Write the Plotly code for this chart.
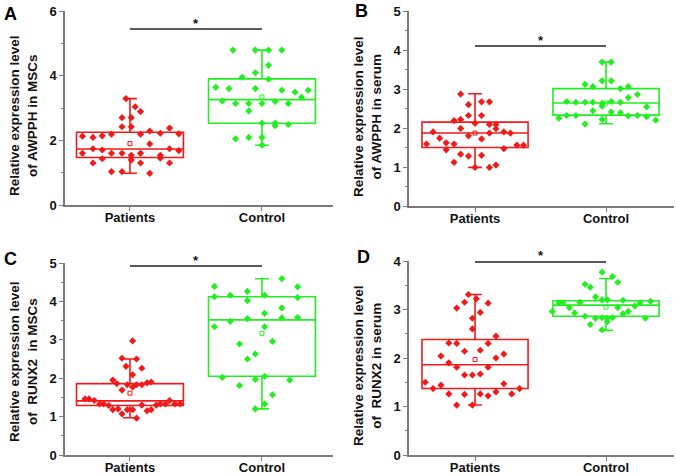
import plotly.graph_objects as go

# ---------------- data ----------------
categories = ["Patients", "Control"]

# Panel A: AWPPH in MSCs
a_pat_off = [-0.36,-0.28,-0.21,-0.14,0.08,0.15,0.23,0.30,0.37,-0.36,-0.28,-0.21,-0.14,-0.06,0.01,0.08,0.15,0.23,0.23,0.30,0.37,-0.28,-0.21,0.01,0.08,0.30,-0.14,-0.06,0.15,-0.06,0.01,-0.06,0.01,-0.03,0.04,0.08]
a_pat_val = [2.13,2.09,2.14,2.19,2.19,2.29,2.22,2.38,2.20,1.60,1.74,1.70,1.60,1.60,1.54,1.60,1.89,1.54,1.45,1.74,1.68,1.30,1.43,1.39,1.30,1.30,1.03,1.03,0.98,2.42,2.42,2.70,2.70,3.29,3.04,2.89]
a_con_off = [-0.22,-0.05,0.05,0.15,0.05,-0.05,-0.15,0.05,-0.35,-0.25,-0.05,0.15,0.25,0.35,0.30,-0.30,-0.20,-0.10,0.00,0.10,0.20,-0.10,0.00,0.10,0.10,0.20,-0.20,-0.10,0.00,0.00]
a_con_val = [4.79,4.79,4.79,4.79,4.32,4.09,3.95,3.89,3.64,3.60,3.60,3.55,3.49,3.55,3.33,3.22,3.14,3.14,3.14,3.20,3.14,2.91,2.53,2.45,2.53,2.49,2.05,2.09,2.09,1.85]
a_stats = {"q1": [1.47, 2.53], "median": [1.73, 3.26], "q3": [2.25, 3.90],
           "lo": [0.98, 1.85], "hi": [3.29, 4.79], "mean": [1.90, 3.34]}

# Panel B: AWPPH in serum
b_pat_off = [-0.11,-0.05,0.05,0.11,-0.05,0.05,-0.16,-0.11,0.00,0.11,0.16,-0.11,0.16,-0.32,0.11,0.22,0.27,-0.27,-0.05,0.05,-0.22,-0.16,-0.37,-0.22,0.22,0.32,0.37,-0.11,-0.05,0.05,-0.16,0.00,0.11,0.16]
b_pat_val = [2.87,2.60,2.67,2.67,2.32,2.32,2.19,2.22,2.12,2.09,2.09,1.99,1.98,1.90,1.87,1.90,1.87,1.74,1.80,1.72,1.62,1.59,1.59,1.44,1.47,1.56,1.56,1.33,1.28,1.30,1.12,0.99,0.99,1.05]
b_con_off = [-0.03,0.04,-0.03,0.04,-0.16,-0.10,0.11,0.17,0.24,0.17,-0.30,-0.23,-0.16,-0.10,-0.03,0.04,0.11,-0.03,-0.10,0.04,0.11,0.31,-0.36,-0.30,-0.23,0.17,0.24,0.31,0.38,-0.03,-0.16]
b_con_val = [3.69,3.69,3.21,3.21,3.12,3.06,3.01,3.06,2.86,2.78,2.68,2.66,2.66,2.66,2.63,2.68,2.66,2.56,2.44,2.41,2.39,2.54,2.25,2.32,2.32,2.31,2.32,2.29,2.20,2.22,2.10]
b_stats = {"q1": [1.50, 2.33], "median": [1.87, 2.64], "q3": [2.15, 3.01],
           "lo": [0.99, 2.11], "hi": [2.88, 3.69], "mean": [1.87, 2.64]}

# Panel C: RUNX2 in MSCs
c_pat_off = [0.02,-0.06,0.05,-0.03,0.09,0.02,-0.13,-0.10,-0.02,0.05,0.09,0.13,0.16,0.02,-0.06,-0.34,-0.31,-0.27,-0.23,-0.20,-0.16,-0.13,-0.09,-0.06,-0.02,0.02,0.05,0.09,0.13,0.16,0.20,0.23,0.27,0.30,0.34,0.38]
c_pat_val = [2.97,2.52,2.50,2.31,2.26,2.09,1.95,1.86,1.83,1.83,1.83,1.88,1.90,1.77,1.69,1.46,1.46,1.42,1.33,1.33,1.29,1.18,1.20,1.07,1.18,1.18,0.96,1.30,1.15,1.18,1.30,1.33,1.33,1.42,1.33,1.33]
c_con_off = [-0.36,-0.36,-0.24,-0.11,-0.11,0.02,0.15,0.27,0.27,0.15,0.02,-0.11,0.15,0.27,-0.24,-0.36,0.02,-0.17,0.08,-0.05,-0.11,-0.30,0.02,-0.05,0.21,-0.17,0.08,0.02,-0.05]
c_con_val = [4.39,4.12,4.16,4.26,4.02,4.16,4.59,4.38,4.10,3.83,3.69,3.55,3.57,3.58,3.48,3.34,3.34,2.89,2.96,2.63,2.50,2.02,2.05,1.97,1.95,1.81,1.57,1.33,1.20]
c_stats = {"q1": [1.29, 2.05], "median": [1.41, 3.52], "q3": [1.86, 4.12],
           "lo": [0.97, 1.20], "hi": [2.50, 4.59], "mean": [1.61, 3.17]}

# Panel D: RUNX2 in serum
d_pat_off = [-0.05,-0.08,0.01,0.10,-0.14,0.04,-0.02,-0.02,0.16,-0.20,-0.14,0.10,-0.08,0.04,-0.26,0.16,0.22,-0.20,-0.14,0.10,-0.08,-0.02,0.04,-0.38,-0.32,-0.26,0.22,0.34,-0.20,-0.08,0.04,0.10,0.16,0.28,-0.14,-0.02]
d_pat_val = [3.31,3.15,3.22,3.13,3.03,2.94,2.82,2.60,2.45,2.31,2.30,2.30,2.14,2.16,2.04,2.00,2.08,1.90,1.81,1.81,1.65,1.65,1.67,1.50,1.37,1.44,1.47,1.37,1.26,1.25,1.26,1.22,1.30,1.26,1.03,1.03]
d_con_off = [-0.03,0.05,-0.16,-0.12,0.09,-0.08,-0.36,-0.33,-0.20,-0.03,0.01,0.13,0.26,0.34,-0.28,0.09,0.22,-0.41,-0.24,0.17,0.13,-0.16,-0.08,-0.03,0.01,0.05,0.30,-0.12,0.01,-0.03]
d_con_val = [3.77,3.68,3.52,3.46,3.56,3.26,3.14,3.14,3.15,3.20,3.20,3.19,3.14,3.17,3.04,3.04,3.07,2.96,2.93,2.96,2.91,2.86,2.82,2.83,2.82,2.83,2.82,2.69,2.75,2.58]
d_stats = {"q1": [1.37, 2.86], "median": [1.86, 3.09], "q3": [2.38, 3.18],
           "lo": [1.03, 2.57], "hi": [3.31, 3.64], "mean": [1.97, 3.05]}

sig_y = [5.44, 4.10, 4.92, 3.98]
panel_letters = ["A", "B", "C", "D"]
y_titles = ["Relative expression level<br>of AWPPH in MSCs",
            "Relative expression level<br>of AWPPH in serum",
            "Relative expression level<br>of  RUNX2  in MSCs",
            "Relative expression level<br>of  RUNX2 in serum"]
y_max = [6, 5, 5, 4]
y_dtick = [2, 1, 1, 1]

# ---------------- styling ----------------
W, H = 677, 476
FONT = "Liberation Sans, Arial, sans-serif"
RED = "#f01a1a"
GREEN = "#22ee22"
AXC = "#7a7a7a"

def px_x(p):
    return p / W

def px_y(p):
    return 1 - p / H

panels = [
    dict(x0=65, x1=333, yt=11, yb=205, xr=[-0.492, 1.538], tx=23, ty=116, lx=10, ly=14),
    dict(x0=409, x1=674, yt=11, yb=206, xr=[-0.504, 1.519], tx=367, ty=116, lx=361, ly=11),
    dict(x0=65, x1=333, yt=263, yb=455, xr=[-0.492, 1.538], tx=23, ty=362, lx=11, ly=259),
    dict(x0=409, x1=674, yt=261, yb=455, xr=[-0.504, 1.519], tx=367, ty=365, lx=363, ly=257),
]

data_sets = [
    (a_pat_off, a_pat_val, a_con_off, a_con_val, a_stats),
    (b_pat_off, b_pat_val, b_con_off, b_con_val, b_stats),
    (c_pat_off, c_pat_val, c_con_off, c_con_val, c_stats),
    (d_pat_off, d_pat_val, d_con_off, d_con_val, d_stats),
]

fig = go.Figure()
annotations = []
layout_axes = {}

for i, (po, pv, co, cv, st) in enumerate(data_sets):
    n = "" if i == 0 else str(i + 1)
    xa, ya = "x" + n, "y" + n
    colors = [RED, GREEN]
    for k in range(2):
        fig.add_trace(go.Box(
            x=[k], q1=[st["q1"][k]], median=[st["median"][k]], q3=[st["q3"][k]],
            lowerfence=[st["lo"][k]], upperfence=[st["hi"][k]],
            width=0.81, whiskerwidth=0.13, boxpoints=False,
            line=dict(color=colors[k], width=1.6),
            fillcolor="rgba(0,0,0,0)", showlegend=False, hoverinfo="skip",
            xaxis=xa, yaxis=ya))
    fig.add_trace(go.Scatter(
        x=[0 + o for o in po], y=pv, mode="markers",
        marker=dict(symbol="diamond", size=5.5, color=RED),
        showlegend=False, xaxis=xa, yaxis=ya))
    fig.add_trace(go.Scatter(
        x=[1 + o for o in co], y=cv, mode="markers",
        marker=dict(symbol="diamond", size=5.5, color=GREEN),
        showlegend=False, xaxis=xa, yaxis=ya))
    fig.add_trace(go.Scatter(
        x=[0, 1], y=st["mean"], mode="markers",
        marker=dict(symbol="square-open", size=4, color=[RED, GREEN], line=dict(width=1)),
        showlegend=False, xaxis=xa, yaxis=ya))
    fig.add_trace(go.Scatter(
        x=[0, 1], y=[sig_y[i], sig_y[i]], mode="lines",
        line=dict(color="#222222", width=1.5), showlegend=False,
        hoverinfo="skip", xaxis=xa, yaxis=ya))
    annotations.append(dict(x=0.5, y=sig_y[i], xref=xa, yref=ya, text="<b>*</b>",
                            showarrow=False, yshift=6,
                            font=dict(family=FONT, size=13, color="#111")))

    p = panels[i]
    layout_axes["xaxis" + n] = dict(
        domain=[px_x(p["x0"]), px_x(p["x1"])], range=p["xr"], anchor=ya,
        tickvals=[0, 1], ticktext=categories, showgrid=False, zeroline=False,
        showline=True, linecolor=AXC, linewidth=1.5, ticks="outside",
        ticklen=4, tickcolor=AXC, tickwidth=1.2, ticklabelstandoff=-4,
        tickfont=dict(family=FONT, size=13, color="#111", weight="bold"))
    layout_axes["yaxis" + n] = dict(
        domain=[px_y(p["yb"]), px_y(p["yt"])], range=[0, y_max[i]], anchor=xa,
        dtick=y_dtick[i], tick0=0, showgrid=False, zeroline=False,
        showline=True, linecolor=AXC, linewidth=1.5, ticks="outside",
        ticklen=4, tickcolor=AXC, tickwidth=1.2,
        minor=dict(dtick=y_dtick[i] / 2, ticks="outside", ticklen=2,
                   tickcolor=AXC, tickwidth=1),
        tickfont=dict(family=FONT, size=13, color="#111", weight="bold"))
    annotations.append(dict(
        x=px_x(p["tx"]), y=px_y(p["ty"]), xref="paper", yref="paper",
        text="<b>" + y_titles[i] + "</b>", textangle=-90, showarrow=False,
        xanchor="center", yanchor="middle",
        font=dict(family=FONT, size=13.5, color="#111")))
    annotations.append(dict(
        x=px_x(p["lx"]), y=px_y(p["ly"]), xref="paper", yref="paper",
        text="<b>" + panel_letters[i] + "</b>", showarrow=False,
        xanchor="center", yanchor="middle",
        font=dict(family=FONT, size=18, color="#000")))

fig.update_layout(
    width=W, height=H, margin=dict(l=0, r=0, t=0, b=0, autoexpand=False),
    paper_bgcolor="white", plot_bgcolor="white",
    annotations=annotations, **layout_axes)

fig.write_html("out.html", config={"displayModeBar": False},
               post_script="document.body.style.margin='0';document.body.style.overflow='hidden';")
